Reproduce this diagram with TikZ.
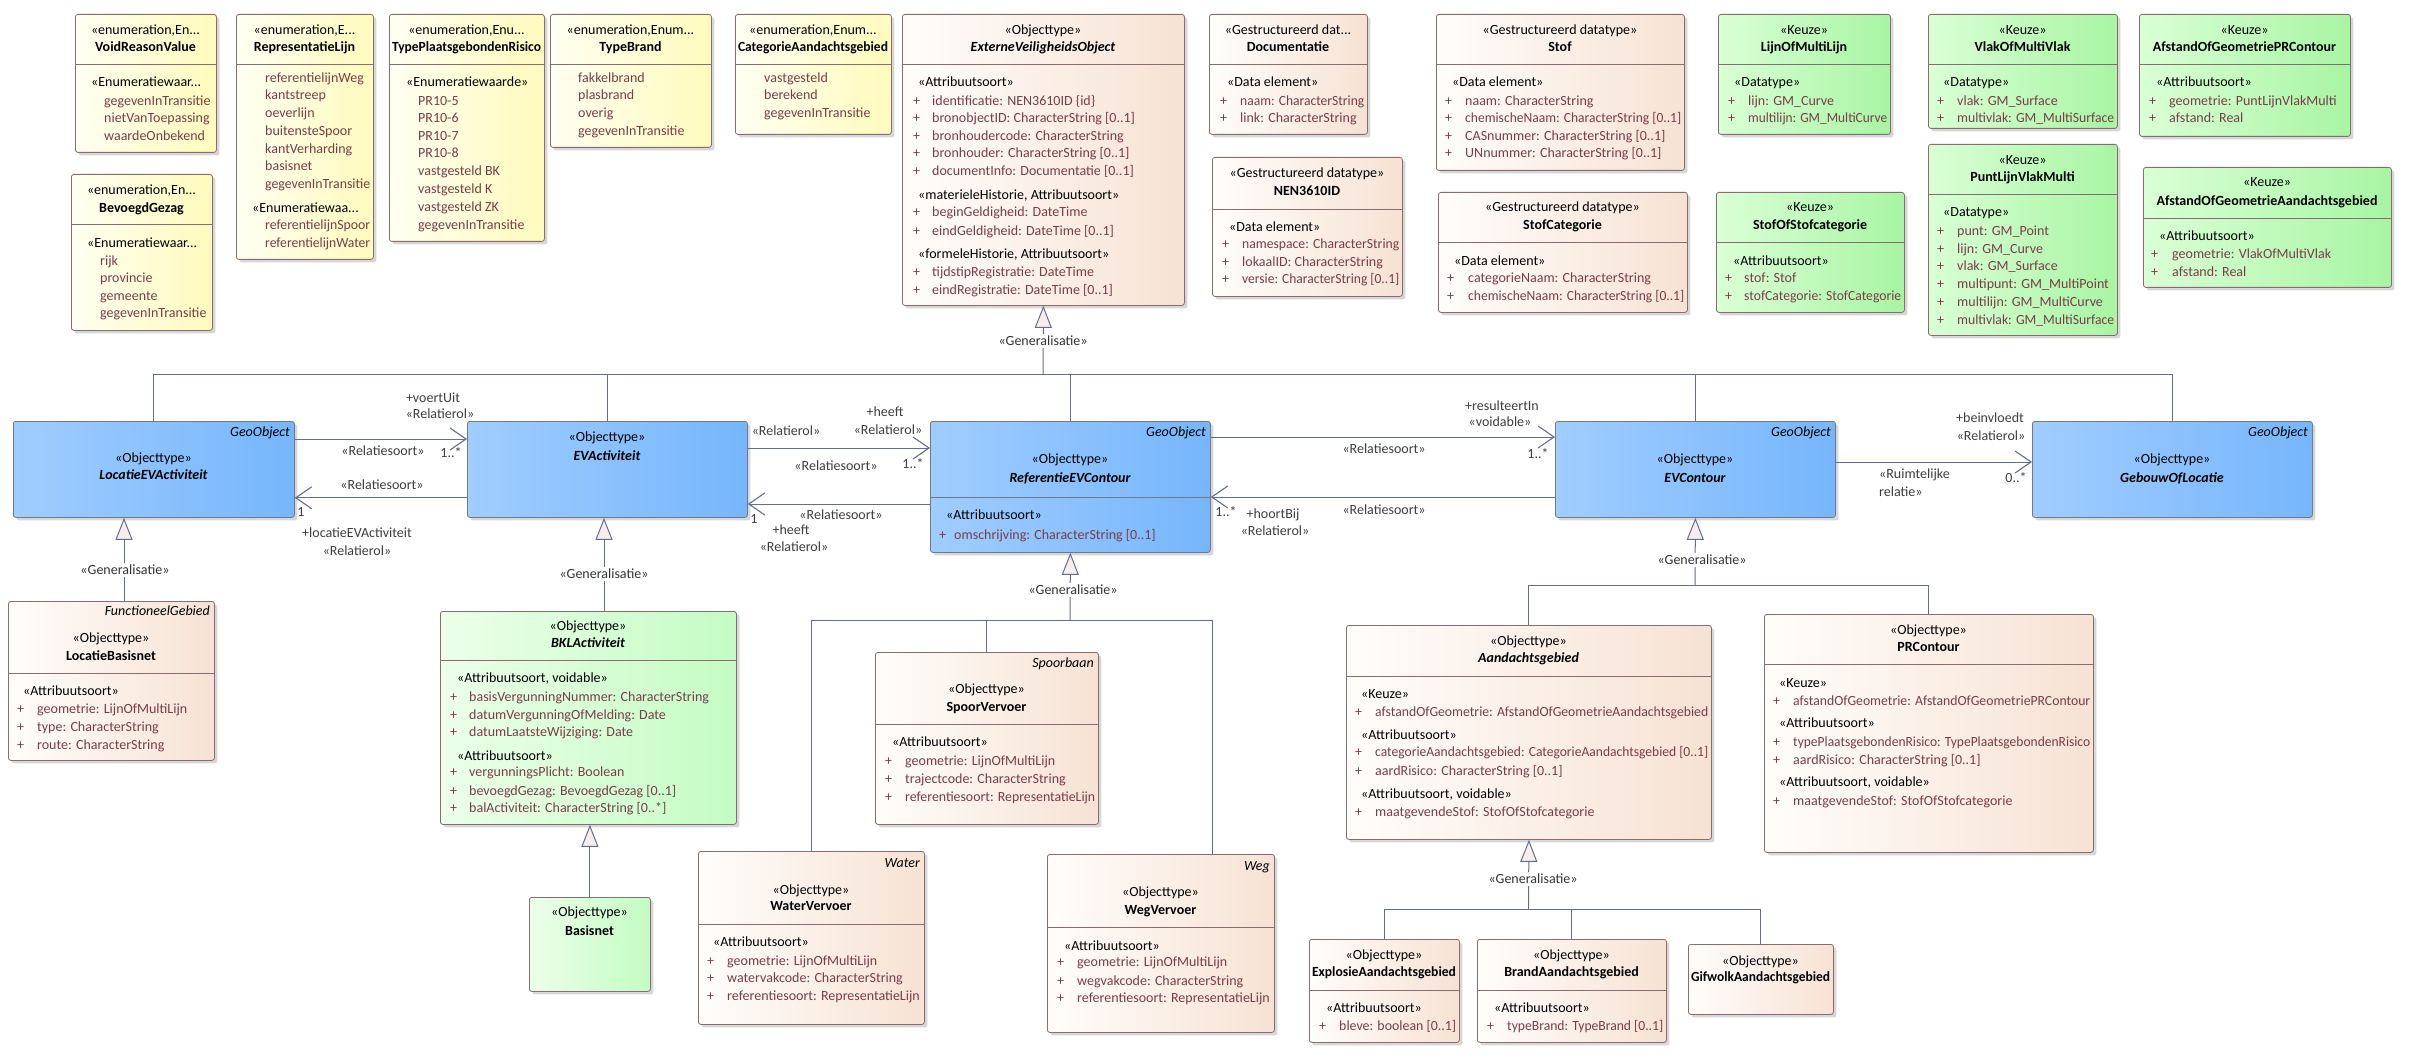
\documentclass[tikz,border=0pt]{standalone}
\usepackage{fontspec}
\setmainfont{Carlito}
\usepackage{graphicx}
\usetikzlibrary{arrows.meta,shadows}

\definecolor{enumL}{RGB}{255,255,242}
\definecolor{enumR}{RGB}{255,250,188}
\definecolor{peachL}{RGB}{255,253,251}
\definecolor{peachR}{RGB}{247,226,212}
\definecolor{keuzeL}{RGB}{218,255,214}
\definecolor{keuzeR}{RGB}{168,245,163}
\definecolor{bklL}{RGB}{236,255,233}
\definecolor{bklR}{RGB}{196,252,196}
\definecolor{blueL}{RGB}{160,205,255}
\definecolor{blueR}{RGB}{118,182,252}
\definecolor{boxborder}{RGB}{135,110,110}
\definecolor{blueborder}{RGB}{115,120,130}
\definecolor{conncol}{RGB}{100,110,138}
\definecolor{attrcol}{RGB}{120,62,72}
\definecolor{lblcol}{RGB}{62,62,62}
\definecolor{trifill}{RGB}{246,238,236}

\newcommand\fs{\fontsize{14}{16}\selectfont}
\newcounter{tn}
\newsavebox\fitbox
\newdimen\fitdim
\newdimen\fitht
\newcommand\fitw[2]{\fitdim=#1\relax\sbox\fitbox{#2}%
  \ifdim\wd\fitbox>\fitdim\fitht=\ht\fitbox\resizebox{\fitdim}{\fitht}{\usebox\fitbox}\else\usebox\fitbox\fi}

\tikzset{
  boxbase/.style={draw=boxborder, line width=0.8pt, rounded corners=2.5pt, inner sep=0pt, anchor=north west,
    drop shadow={shadow xshift=3pt, shadow yshift=-3pt, opacity=0.22, fill=black!70}},
  enumbox/.style={boxbase, left color=enumL, right color=enumR},
  peachbox/.style={boxbase, left color=peachL, right color=peachR},
  keuzebox/.style={boxbase, left color=keuzeL, right color=keuzeR},
  bklbox/.style={boxbase, left color=bklL, right color=bklR},
  bluebox/.style={boxbase, draw=blueborder, left color=blueL, right color=blueR},
  divider/.style={draw=boxborder, line width=0.8pt},
  txt/.style={font=\fs, inner sep=0pt, text=black, anchor=mid, yshift=-1.5pt},
  nm/.style={font=\fs\bfseries},
  nmi/.style={font=\fs\bfseries\itshape},
  atxt/.style={txt, text=attrcol},
  ltxt/.style={txt, text=lblcol},
  conn/.style={draw=conncol, line width=1pt},
  assoc/.style={conn, -{Straight Barb[length=16pt,width=22pt,line width=1.1pt]}},
  gen/.style={conn, -{Triangle[length=22pt,width=17pt,fill=trifill,line width=1pt]}},
  genlab/.style={txt, text=black!80, fill=white, inner sep=2pt},
}

% box: name, style, x1, y1, x2, y2
\newcommand\umlbox[6]{\gdef\bxl{#3}\gdef\bxr{#5}\gdef\bxt{#4}\gdef\bxn{#1}%
  \node[#2, minimum width={(#5-#3)*1pt}, minimum height={(#6-#4)*1pt}] (#1) at (#3,#4) {};}
\newcommand\udiv[1]{\draw[divider] ([yshift={(\bxt-#1)*1pt}]\bxn.north west) -- ([yshift={(\bxt-#1)*1pt}]\bxn.north east);}
\newcommand\uhd[3]{\stepcounter{tn}\node[txt,#1] (t\arabic{tn}) at ({(\bxl+\bxr)/2},#2) {\fitw{\dimexpr\bxr pt-\bxl pt-6pt\relax}{#3}};}
\newcommand\ust[3]{\stepcounter{tn}\node[txt,anchor=mid west] (t\arabic{tn}) at (#1,#2) {\fitw{\dimexpr\bxr pt-#1pt-3pt\relax}{#3}};}
\newcommand\uatt[4]{\stepcounter{tn}\node[atxt,anchor=mid west] (p\arabic{tn}) at (#1,#3) {+};
  \node[atxt,anchor=mid west] (t\arabic{tn}) at (#2,#3) {\fitw{\dimexpr\bxr pt-#2pt-3pt\relax}{#4}};}
\newcommand\uei[3]{\stepcounter{tn}\node[atxt,anchor=mid west] (t\arabic{tn}) at (#1,#2) {\fitw{\dimexpr\bxr pt-#1pt-3pt\relax}{#3}};}
\newcommand\utag[2]{\stepcounter{tn}\node[txt,font=\fs\itshape,anchor=mid east] (t\arabic{tn}) at ({\bxr-4},#1) {#2};}
\newcommand\ulab[3]{\stepcounter{tn}\node[ltxt] (l\arabic{tn}) at (#1,#2) {#3};}
\newcommand\ulabl[3]{\stepcounter{tn}\node[ltxt,anchor=mid west] (l\arabic{tn}) at (#1,#2) {#3};}

\begin{document}
\begin{tikzpicture}[x=1pt,y=-1pt]
\useasboundingbox (0,0) rectangle (2411,1059);
\fill[white] (0,0) rectangle (2411,1059);

% ===== Enumerations =====
\umlbox{voidreason}{enumbox}{75}{14}{216}{152}
\udiv{64}
\uhd{}{31}{«enumeration,En...}
\uhd{nm}{48}{VoidReasonValue}
\ust{91}{83}{«Enumeratiewaar...}
\uei{104}{102}{gegevenInTransitie}
\uei{104}{119}{nietVanToepassing}
\uei{104}{137}{waardeOnbekend}

\umlbox{bevoegd}{enumbox}{71}{174}{212}{330}
\udiv{224}
\uhd{}{191}{«enumeration,En...}
\uhd{nm}{209}{BevoegdGezag}
\ust{87}{244}{«Enumeratiewaar...}
\uei{100}{262}{rijk}
\uei{100}{279}{provincie}
\uei{100}{297}{gemeente}
\uei{100}{314}{gegevenInTransitie}

\umlbox{replijn}{enumbox}{236}{14}{373}{259}
\udiv{64}
\uhd{}{31}{«enumeration,E...}
\uhd{nm}{48}{RepresentatieLijn}
\uei{265}{79}{referentielijnWeg}
\uei{265}{96}{kantstreep}
\uei{265}{114}{oeverlijn}
\uei{265}{132}{buitensteSpoor}
\uei{265}{150}{kantVerharding}
\uei{265}{167}{basisnet}
\uei{265}{185}{gegevenInTransitie}
\ust{252}{209}{«Enumeratiewaa...}
\uei{265}{226}{referentielijnSpoor}
\uei{265}{244}{referentielijnWater}

\umlbox{typepr}{enumbox}{389}{14}{544}{241}
\udiv{64}
\uhd{}{31}{«enumeration,Enu...}
\uhd{nm}{48}{TypePlaatsgebondenRisico}
\ust{406}{83}{«Enumeratiewaarde»}
\uei{418}{102}{PR10-5}
\uei{418}{119}{PR10-6}
\uei{418}{137}{PR10-7}
\uei{418}{154}{PR10-8}
\uei{418}{172}{vastgesteld BK}
\uei{418}{190}{vastgesteld K}
\uei{418}{208}{vastgesteld ZK}
\uei{418}{226}{gegevenInTransitie}

\umlbox{typebrand}{enumbox}{550}{14}{711}{147}
\udiv{64}
\uhd{}{31}{«enumeration,Enum...}
\uhd{nm}{48}{TypeBrand}
\uei{578}{79}{fakkelbrand}
\uei{578}{96}{plasbrand}
\uei{578}{114}{overig}
\uei{578}{132}{gegevenInTransitie}

\umlbox{catag}{enumbox}{735}{14}{891}{134}
\udiv{64}
\uhd{}{31}{«enumeration,Enum...}
\uhd{nm}{48}{CategorieAandachtsgebied}
\uei{764}{79}{vastgesteld}
\uei{764}{96}{berekend}
\uei{764}{114}{gegevenInTransitie}

% ===== ExterneVeiligheidsObject =====
\umlbox{evo}{peachbox}{902}{14}{1184}{305}
\udiv{64}
\uhd{}{31}{«Objecttype»}
\uhd{nmi}{48}{ExterneVeiligheidsObject}
\ust{918}{83}{«Attribuutsoort»}
\uatt{913}{932}{102}{identificatie: NEN3610ID \{id\}}
\uatt{913}{932}{119}{bronobjectID: CharacterString [0..1]}
\uatt{913}{932}{137}{bronhoudercode: CharacterString}
\uatt{913}{932}{154}{bronhouder: CharacterString [0..1]}
\uatt{913}{932}{172}{documentInfo: Documentatie [0..1]}
\ust{918}{196}{«materieleHistorie, Attribuutsoort»}
\uatt{913}{932}{213}{beginGeldigheid: DateTime}
\uatt{913}{932}{232}{eindGeldigheid: DateTime [0..1]}
\ust{918}{255}{«formeleHistorie, Attribuutsoort»}
\uatt{913}{932}{273}{tijdstipRegistratie: DateTime}
\uatt{913}{932}{291}{eindRegistratie: DateTime [0..1]}

% ===== Datatypes =====
\umlbox{documentatie}{peachbox}{1209}{14}{1367}{134}
\udiv{64}
\uhd{}{31}{«Gestructureerd dat...}
\uhd{nm}{48}{Documentatie}
\ust{1227}{83}{«Data element»}
\uatt{1220}{1240}{102}{naam: CharacterString}
\uatt{1220}{1240}{119}{link: CharacterString}

\umlbox{nenid}{peachbox}{1212}{157}{1402}{296}
\udiv{209}
\uhd{}{174}{«Gestructureerd datatype»}
\uhd{nm}{192}{NEN3610ID}
\ust{1229}{228}{«Data element»}
\uatt{1222}{1242}{245}{namespace: CharacterString}
\uatt{1222}{1242}{263}{lokaalID: CharacterString}
\uatt{1222}{1242}{280}{versie: CharacterString [0..1]}

\umlbox{stof}{peachbox}{1436}{14}{1684}{170}
\udiv{64}
\uhd{}{31}{«Gestructureerd datatype»}
\uhd{nm}{48}{Stof}
\ust{1452}{83}{«Data element»}
\uatt{1445}{1465}{102}{naam: CharacterString}
\uatt{1445}{1465}{119}{chemischeNaam: CharacterString [0..1]}
\uatt{1445}{1465}{137}{CASnummer: CharacterString [0..1]}
\uatt{1445}{1465}{154}{UNnummer: CharacterString [0..1]}

\umlbox{stofcat}{peachbox}{1438}{192}{1687}{312}
\udiv{242}
\uhd{}{208}{«Gestructureerd datatype»}
\uhd{nm}{226}{StofCategorie}
\ust{1454}{262}{«Data element»}
\uatt{1447}{1468}{279}{categorieNaam: CharacterString}
\uatt{1447}{1468}{297}{chemischeNaam: CharacterString [0..1]}

% ===== Keuze =====
\umlbox{lijnmulti}{keuzebox}{1718}{14}{1890}{134}
\udiv{64}
\uhd{}{31}{«Keuze»}
\uhd{nm}{48}{LijnOfMultiLijn}
\ust{1734}{83}{«Datatype»}
\uatt{1728}{1748}{102}{lijn: GM\_Curve}
\uatt{1728}{1748}{119}{multilijn: GM\_MultiCurve}

\umlbox{vlakmulti}{keuzebox}{1928}{14}{2117}{128}
\udiv{64}
\uhd{}{31}{«Keuze»}
\uhd{nm}{48}{VlakOfMultiVlak}
\ust{1943}{83}{«Datatype»}
\uatt{1937}{1957}{102}{vlak: GM\_Surface}
\uatt{1937}{1957}{119}{multivlak: GM\_MultiSurface}

\umlbox{afstandpr}{keuzebox}{2139}{14}{2350}{136}
\udiv{64}
\uhd{}{31}{«Keuze»}
\uhd{nm}{48}{AfstandOfGeometriePRContour}
\ust{2156}{83}{«Attribuutsoort»}
\uatt{2149}{2169}{102}{geometrie: PuntLijnVlakMulti}
\uatt{2149}{2169}{119}{afstand: Real}

\umlbox{stofofcat}{keuzebox}{1716}{192}{1904}{312}
\udiv{242}
\uhd{}{208}{«Keuze»}
\uhd{nm}{226}{StofOfStofcategorie}
\ust{1733}{262}{«Attribuutsoort»}
\uatt{1725}{1744}{279}{stof: Stof}
\uatt{1725}{1744}{297}{stofCategorie: StofCategorie}

\umlbox{puntlijn}{keuzebox}{1928}{144}{2117}{335}
\udiv{194}
\uhd{}{161}{«Keuze»}
\uhd{nm}{178}{PuntLijnVlakMulti}
\ust{1943}{213}{«Datatype»}
\uatt{1937}{1957}{232}{punt: GM\_Point}
\uatt{1937}{1957}{250}{lijn: GM\_Curve}
\uatt{1937}{1957}{267}{vlak: GM\_Surface}
\uatt{1937}{1957}{285}{multipunt: GM\_MultiPoint}
\uatt{1937}{1957}{303}{multilijn: GM\_MultiCurve}
\uatt{1937}{1957}{321}{multivlak: GM\_MultiSurface}

\umlbox{afstandag}{keuzebox}{2143}{167}{2391}{287}
\udiv{218}
\uhd{}{183}{«Keuze»}
\uhd{nm}{202}{AfstandOfGeometrieAandachtsgebied}
\ust{2159}{237}{«Attribuutsoort»}
\uatt{2151}{2172}{255}{geometrie: VlakOfMultiVlak}
\uatt{2151}{2172}{273}{afstand: Real}

% ===== Blue row =====
\umlbox{locEV}{bluebox}{13}{421}{294}{517}
\utag{433}{GeoObject}
\uhd{}{459}{«Objecttype»}
\uhd{nmi}{476}{LocatieEVActiviteit}

\umlbox{evact}{bluebox}{467}{421}{747}{517}
\uhd{}{438}{«Objecttype»}
\uhd{nmi}{457}{EVActiviteit}

\umlbox{refev}{bluebox}{930}{421}{1210}{552}
\draw[draw=blueborder, line width=0.8pt] ([yshift=-76pt]refev.north west) -- ([yshift=-76pt]refev.north east);
\utag{433}{GeoObject}
\uhd{}{460}{«Objecttype»}
\uhd{nmi}{479}{ReferentieEVContour}
\ust{946}{516}{«Attribuutsoort»}
\uatt{939}{954}{536}{omschrijving: CharacterString [0..1]}

\umlbox{evcont}{bluebox}{1555}{421}{1835}{517}
\utag{433}{GeoObject}
\uhd{}{460}{«Objecttype»}
\uhd{nmi}{479}{EVContour}

\umlbox{gebouw}{bluebox}{2032}{421}{2312}{517}
\utag{433}{GeoObject}
\uhd{}{460}{«Objecttype»}
\uhd{nmi}{479}{GebouwOfLocatie}

% ===== Lower classes =====
\umlbox{locbas}{peachbox}{8}{601}{214}{760}
\udiv{673}
\utag{612}{FunctioneelGebied}
\uhd{}{639}{«Objecttype»}
\uhd{nm}{657}{LocatieBasisnet}
\ust{23}{692}{«Attribuutsoort»}
\uatt{17}{37}{710}{geometrie: LijnOfMultiLijn}
\uatt{17}{37}{728}{type: CharacterString}
\uatt{17}{37}{746}{route: CharacterString}

\umlbox{bkl}{bklbox}{440}{611}{736}{824}
\udiv{660}
\uhd{}{627}{«Objecttype»}
\uhd{nmi}{644}{BKLActiviteit}
\ust{457}{679}{«Attribuutsoort, voidable»}
\uatt{450}{469}{698}{basisVergunningNummer: CharacterString}
\uatt{450}{469}{716}{datumVergunningOfMelding: Date}
\uatt{450}{469}{733}{datumLaatsteWijziging: Date}
\ust{457}{757}{«Attribuutsoort»}
\uatt{450}{469}{773}{vergunningsPlicht: Boolean}
\uatt{450}{469}{792}{bevoegdGezag: BevoegdGezag [0..1]}
\uatt{450}{469}{809}{balActiviteit: CharacterString [0..*]}

\umlbox{basisnet}{bklbox}{529}{897}{650}{991}
\uhd{}{913}{«Objecttype»}
\uhd{nm}{932}{Basisnet}

\umlbox{spoor}{peachbox}{875}{652}{1098}{824}
\udiv{724}
\utag{664}{Spoorbaan}
\uhd{}{690}{«Objecttype»}
\uhd{nm}{708}{SpoorVervoer}
\ust{892}{743}{«Attribuutsoort»}
\uatt{885}{905}{762}{geometrie: LijnOfMultiLijn}
\uatt{885}{905}{780}{trajectcode: CharacterString}
\uatt{885}{905}{798}{referentiesoort: RepresentatieLijn}

\umlbox{water}{peachbox}{698}{851}{924}{1024}
\udiv{924}
\utag{864}{Water}
\uhd{}{891}{«Objecttype»}
\uhd{nm}{907}{WaterVervoer}
\ust{713}{943}{«Attribuutsoort»}
\uatt{707}{727}{962}{geometrie: LijnOfMultiLijn}
\uatt{707}{727}{979}{watervakcode: CharacterString}
\uatt{707}{727}{997}{referentiesoort: RepresentatieLijn}

\umlbox{weg}{peachbox}{1047}{854}{1274}{1032}
\udiv{927}
\utag{867}{Weg}
\uhd{}{893}{«Objecttype»}
\uhd{nm}{911}{WegVervoer}
\ust{1064}{947}{«Attribuutsoort»}
\uatt{1057}{1077}{963}{geometrie: LijnOfMultiLijn}
\uatt{1057}{1077}{982}{wegvakcode: CharacterString}
\uatt{1057}{1077}{999}{referentiesoort: RepresentatieLijn}

\umlbox{aandacht}{peachbox}{1346}{625}{1711}{839}
\udiv{676}
\uhd{}{642}{«Objecttype»}
\uhd{nmi}{659}{Aandachtsgebied}
\ust{1361}{695}{«Keuze»}
\uatt{1355}{1375}{713}{afstandOfGeometrie: AfstandOfGeometrieAandachtsgebied}
\ust{1361}{736}{«Attribuutsoort»}
\uatt{1355}{1375}{753}{categorieAandachtsgebied: CategorieAandachtsgebied [0..1]}
\uatt{1355}{1375}{772}{aardRisico: CharacterString [0..1]}
\ust{1361}{795}{«Attribuutsoort, voidable»}
\uatt{1355}{1375}{813}{maatgevendeStof: StofOfStofcategorie}

\umlbox{prc}{peachbox}{1764}{614}{2093}{852}
\udiv{664}
\uhd{}{631}{«Objecttype»}
\uhd{nm}{648}{PRContour}
\ust{1779}{684}{«Keuze»}
\uatt{1773}{1793}{702}{afstandOfGeometrie: AfstandOfGeometriePRContour}
\ust{1779}{724}{«Attribuutsoort»}
\uatt{1773}{1793}{743}{typePlaatsgebondenRisico: TypePlaatsgebondenRisico}
\uatt{1773}{1793}{761}{aardRisico: CharacterString [0..1]}
\ust{1779}{783}{«Attribuutsoort, voidable»}
\uatt{1773}{1793}{802}{maatgevendeStof: StofOfStofcategorie}

\umlbox{explosie}{peachbox}{1309}{939}{1459}{1042}
\udiv{990}
\uhd{}{956}{«Objecttype»}
\uhd{nm}{973}{ExplosieAandachtsgebied}
\ust{1326}{1009}{«Attribuutsoort»}
\uatt{1319}{1339}{1027}{bleve: boolean [0..1]}

\umlbox{brand}{peachbox}{1477}{939}{1666}{1042}
\udiv{990}
\uhd{}{956}{«Objecttype»}
\uhd{nm}{973}{BrandAandachtsgebied}
\ust{1494}{1009}{«Attribuutsoort»}
\uatt{1487}{1507}{1027}{typeBrand: TypeBrand [0..1]}

\umlbox{gifwolk}{peachbox}{1688}{944}{1833}{1014}
\uhd{}{962}{«Objecttype»}
\uhd{nm}{978}{GifwolkAandachtsgebied}

% ===== Generalisations =====
\coordinate (evoBus) at (1043,374);
\draw[conn] (locEV.north) |- (gebouw.north |- evoBus) -- (gebouw.north);
\draw[conn] (evact.north) -- (evact.north |- evoBus);
\draw[conn] (refev.north) -- (refev.north |- evoBus);
\draw[conn] (evcont.north) -- (evcont.north |- evoBus);
\draw[gen] (evoBus) -- (evo.south);
\node[genlab] (g1) at (1043,342) {«Generalisatie»};

\draw[gen] ([xshift=116pt]locbas.north west) -- ([xshift=111pt]locEV.south west);
\node[genlab] (g2) at (125,571) {«Generalisatie»};

\draw[gen] ([xshift=164pt]bkl.north west) -- ([xshift=137pt]evact.south west);
\node[genlab] (g3) at (604,575) {«Generalisatie»};

\draw[gen] (basisnet.north) -- (basisnet.north |- bkl.south);

\coordinate (refBus) at (1070,620);
\draw[conn] (water.north) |- ([xshift=165pt]weg.north west |- refBus) -- ([xshift=165pt]weg.north west);
\draw[conn] (spoor.north) -- (spoor.north |- refBus);
\draw[gen] (refBus) -- (refev.south);
\node[genlab] (g4) at (1073,591) {«Generalisatie»};

\coordinate (evcBus) at (1695,585);
\draw[conn] (aandacht.north) |- (prc.north |- evcBus) -- (prc.north);
\draw[gen] (evcBus) -- (evcont.south);
\node[genlab] (g5) at (1702,561) {«Generalisatie»};

\coordinate (aBus) at (1528.5,909);
\draw[conn] (explosie.north) |- (gifwolk.north |- aBus) -- (gifwolk.north);
\draw[conn] (brand.north) -- (brand.north |- aBus);
\draw[gen] (aBus) -- (aandacht.south);
\node[genlab] (g6) at (1533,880) {«Generalisatie»};

% ===== Associations =====
\draw[assoc] ([yshift=-18pt]locEV.north east) -- ([yshift=-18pt]evact.north west);
\draw[assoc] ([yshift=20pt]evact.south west) -- ([yshift=20pt]locEV.south east);
\draw[assoc] ([yshift=-27pt]evact.north east) -- ([yshift=-27pt]refev.north west);
\draw[assoc] ([yshift=-83pt]refev.north west) -- ([yshift=-83pt]evact.north east);
\draw[assoc] ([yshift=-16pt]refev.north east) -- ([yshift=-16pt]evcont.north west);
\draw[assoc] ([yshift=-76pt]evcont.north west) -- ([yshift=-76pt]refev.north east);
\draw[assoc] ([yshift=-41pt]evcont.north east) -- ([yshift=-41pt]gebouw.north west);

% labels LocatieEV <-> EVActiviteit
\ulab{433}{399}{+voertUit}
\ulab{440}{415}{«Relatierol»}
\ulab{383}{452}{«Relatiesoort»}
\ulab{451}{454}{1..*}
\ulab{382}{486}{«Relatiesoort»}
\ulab{301}{513}{1}
\ulab{357}{534}{+locatieEVActiviteit}
\ulab{357}{552}{«Relatierol»}
% EVActiviteit <-> ReferentieEVContour
\ulab{786}{432}{«Relatierol»}
\ulab{885}{413}{+heeft}
\ulab{888}{431}{«Relatierol»}
\ulab{836}{467}{«Relatiesoort»}
\ulab{913}{465}{1..*}
\ulab{754}{520}{1}
\ulab{841}{516}{«Relatiesoort»}
\ulab{791}{531}{+heeft}
\ulab{794}{548}{«Relatierol»}
% ReferentieEVContour <-> EVContour
\ulab{1502}{407}{+resulteertIn}
\ulab{1500}{423}{«voidable»}
\ulab{1384}{450}{«Relatiesoort»}
\ulab{1538}{455}{1..*}
\ulab{1226}{513}{1..*}
\ulab{1273}{515}{+hoortBij}
\ulab{1275}{532}{«Relatierol»}
\ulab{1384}{511}{«Relatiesoort»}
% EVContour -> GebouwOfLocatie
\ulab{1990}{419}{+beinvloedt}
\ulab{1991}{437}{«Relatierol»}
\ulabl{1879}{475}{«Ruimtelijke}
\ulabl{1879}{493}{relatie»}
\ulab{2016}{479}{0..*}
\end{tikzpicture}
\end{document}
